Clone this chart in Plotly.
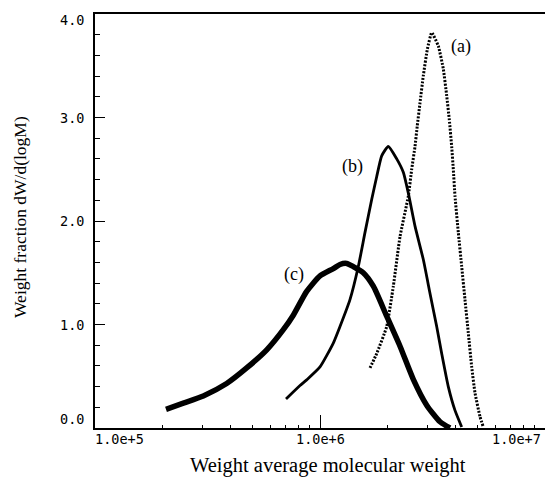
import math
import plotly.graph_objects as go

# ---- data ----
mw_a = [1.668e6, 1.787e6, 1.979e6, 2.118e6, 2.268e6, 2.469e6, 2.556e6, 2.644e6, 2.706e6,
        2.782e6, 2.877e6, 3.000e6, 3.138e6, 3.357e6, 3.532e6, 3.657e6, 3.755e6, 3.848e6,
        3.912e6, 3.981e6, 4.118e6, 4.263e6, 4.409e6, 4.561e6, 4.722e6, 4.885e6, 5.141e6, 5.318e6]
wf_a = [0.58, 0.72, 0.98, 1.37, 1.85, 2.24, 2.50, 2.72, 2.92,
        3.14, 3.40, 3.66, 3.82, 3.69, 3.47, 3.21, 2.98, 2.72,
        2.50, 2.24, 1.89, 1.56, 1.24, 0.92, 0.59, 0.34, 0.11, 0.01]

mw_b = [7.063e5, 8.150e5, 8.727e5, 1.0e6, 1.146e6, 1.227e6, 1.359e6, 1.480e6, 1.585e6,
        1.698e6, 1.787e6, 1.880e6, 2.012e6, 2.193e6, 2.346e6, 2.469e6, 2.644e6, 2.877e6,
        3.083e6, 3.301e6, 3.474e6, 3.717e6, 3.981e6, 4.263e6]
wf_b = [0.28, 0.41, 0.465, 0.59, 0.82, 0.98, 1.24, 1.56, 1.89,
        2.21, 2.43, 2.63, 2.72, 2.60, 2.47, 2.27, 1.95, 1.63,
        1.30, 0.98, 0.72, 0.40, 0.17, 0.01]

mw_c = [2.068e5, 2.469e5, 3.029e5, 3.848e5, 4.722e5, 5.798e5, 6.870e5, 7.608e5, 8.727e5,
        1.0e6, 1.146e6, 1.227e6, 1.314e6, 1.406e6, 1.557e6, 1.726e6, 1.979e6, 2.268e6,
        2.598e6, 2.980e6, 3.415e6, 3.783e6]
wf_c = [0.18, 0.24, 0.31, 0.43, 0.58, 0.755, 0.95, 1.09, 1.32,
        1.47, 1.54, 1.58, 1.59, 1.56, 1.50, 1.37, 1.08, 0.79,
        0.47, 0.22, 0.06, 0.0]

x_tick_vals = [1e5, 1e6, 1e7]
x_tick_text = ["1.0e+5", "1.0e+6", "1.0e+7"]
y_tick_vals = [0, 1, 2, 3, 4]
y_tick_text = ["0.0", "1.0", "2.0", "3.0", "4.0"]

curve_labels = ["(a)", "(b)", "(c)"]
curve_label_pos = [(4.24e6, 3.69), (1.40e6, 2.53), (7.66e5, 1.48)]

x_title = "Weight average molecular weight"
y_title = "Weight fraction dW/d(logM)"

# ---- figure ----
fig = go.Figure()
fig.add_trace(go.Scatter(x=mw_c, y=wf_c, mode="lines",
                         line=dict(color="black", width=5.5, shape="spline", smoothing=0.6),
                         showlegend=False))
fig.add_trace(go.Scatter(x=mw_b, y=wf_b, mode="lines",
                         line=dict(color="black", width=2.8, shape="spline", smoothing=0.5),
                         showlegend=False))
fig.add_trace(go.Scatter(x=mw_a, y=wf_a, mode="lines",
                         line=dict(color="black", width=3, dash="2px,1.5px",
                                   shape="spline", smoothing=0.4),
                         showlegend=False))

MONO = "DejaVu Sans Mono"
SERIF = "Liberation Serif"
anns = []
anchors = ["left", "center", "right"]
shifts = [-2, 0, -2]
for v, t, a, s in zip(x_tick_vals, x_tick_text, anchors, shifts):
    anns.append(dict(x=math.log10(v), y=0, xref="x", yref="paper", text=t, showarrow=False,
                     xanchor=a, yanchor="top", xshift=s, yshift=-1,
                     font=dict(family=MONO, size=13.5, color="black")))
for v, t in zip(y_tick_vals, y_tick_text):
    ys = 9 if v == 0 else (-6 if v == 4 else 0)
    anns.append(dict(x=0, y=v, xref="paper", yref="y", text=t, showarrow=False,
                     xanchor="right", yanchor="middle", xshift=-9, yshift=ys,
                     font=dict(family=MONO, size=13.5, color="black")))
for t, (px, py) in zip(curve_labels, curve_label_pos):
    anns.append(dict(x=math.log10(px), y=py, xref="x", yref="y", text=t, showarrow=False,
                     xanchor="center", yanchor="middle",
                     font=dict(family=SERIF, size=18, color="black")))
anns.append(dict(x=0.5, y=0, xref="paper", yref="paper", text=x_title, showarrow=False,
                 xanchor="center", yanchor="top", xshift=7.5, yshift=-24,
                 font=dict(family=SERIF, size=20.5, color="black")))
anns.append(dict(x=0, y=0.5, xref="paper", yref="paper", text=y_title, showarrow=False,
                 textangle=-90, xanchor="center", yanchor="middle", xshift=-75, yshift=4,
                 font=dict(family=SERIF, size=17.5, color="black")))

fig.update_layout(
    width=545, height=478,
    margin=dict(l=95, r=0, t=14, b=50),
    paper_bgcolor="white", plot_bgcolor="white",
    annotations=anns,
    xaxis=dict(type="log", range=[5, 7], showgrid=False, zeroline=False,
               showline=True, linecolor="black", linewidth=2, mirror=True,
               ticks="inside", ticklen=13, tickwidth=1, tickcolor="black",
               tickvals=x_tick_vals, showticklabels=False,
               minor=dict(ticks="inside", ticklen=3, tickwidth=1, tickcolor="black",
                          dtick="D1", showgrid=False)),
    yaxis=dict(range=[0, 4], showgrid=False, zeroline=False,
               showline=True, linecolor="black", linewidth=1.5, mirror=False,
               ticks="inside", ticklen=10, tickwidth=1, tickcolor="black",
               tickvals=y_tick_vals, showticklabels=False,
               minor=dict(ticks="inside", ticklen=5, tickwidth=1, tickcolor="black",
                          dtick=0.2, showgrid=False)),
)

fig.write_html("out.html", config={"displayModeBar": False},
               post_script="document.body.style.margin='0';document.body.style.overflow='hidden';")
